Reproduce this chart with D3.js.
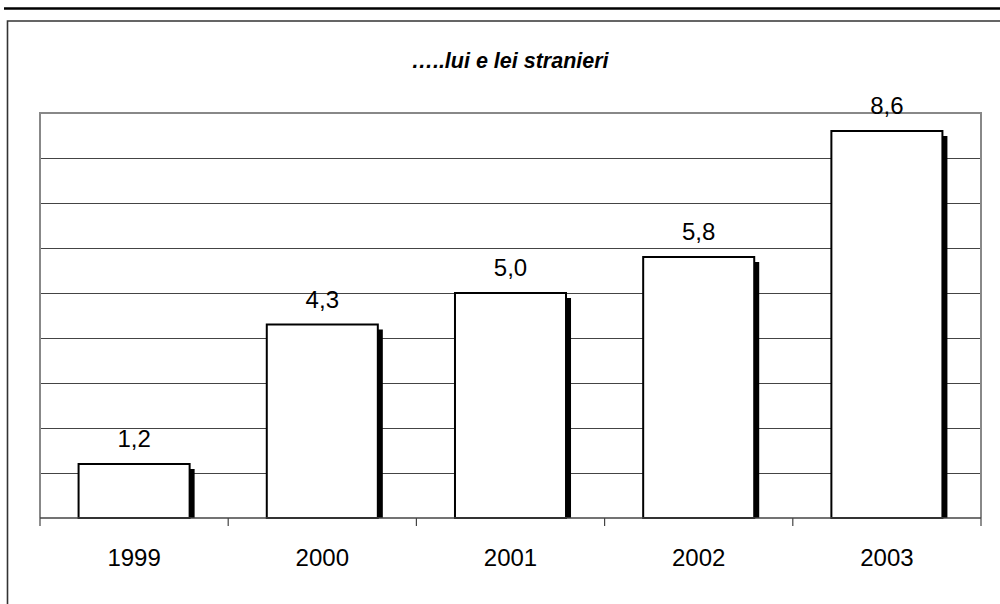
<!DOCTYPE html>
<html>
<head>
<meta charset="utf-8">
<script src="https://cdn.jsdelivr.net/npm/d3@7/dist/d3.min.js"></script>
<style>
  html, body { margin: 0; padding: 0; background: #fff; }
  svg { display: block; font-family: "Liberation Sans", Arial, sans-serif; }
</style>
</head>
<body>
<svg id="chart" width="1000" height="604"></svg>
<script>
const titleText = "…..lui e lei stranieri";
const years = ["1999", "2000", "2001", "2002", "2003"];
const values = [1.2, 4.3, 5.0, 5.8, 8.6];
const valueLabels = ["1,2", "4,3", "5,0", "5,8", "8,6"];
const yTicks = [0, 1, 2, 3, 4, 5, 6, 7, 8, 9];

const svg = d3.select("#chart");
const plot = { left: 40, top: 113, right: 981, bottom: 518 };

// top rule and outer frame
svg.append("line").attr("x1", 4).attr("x2", 1000).attr("y1", 8.5).attr("y2", 8.5)
  .attr("stroke", "#000").attr("stroke-width", 2.5);
svg.append("path").attr("d", "M7.5,610 V21 H1010")
  .attr("fill", "none").attr("stroke", "#333").attr("stroke-width", 1.6);

// title
svg.append("text").attr("x", 510).attr("y", 68).attr("text-anchor", "middle")
  .attr("font-size", 21.5).attr("font-weight", "bold").attr("font-style", "italic")
  .attr("fill", "#000").text(titleText);

const x = d3.scaleBand().domain(years).range([plot.left, plot.right])
  .paddingInner(0.41).paddingOuter(0.205);
const y = d3.scaleLinear().domain([0, 9]).range([plot.bottom, plot.top]);

// gridlines
svg.append("g").selectAll("line").data(yTicks.filter(d => d > 0 && d < 9)).join("line")
  .attr("x1", plot.left).attr("x2", plot.right)
  .attr("y1", d => Math.round(y(d)) + 0.5).attr("y2", d => Math.round(y(d)) + 0.5)
  .attr("stroke", "#444").attr("stroke-width", 1);

// plot border (left, top, right)
svg.append("path")
  .attr("d", `M${plot.left},${plot.bottom} V${plot.top} H${plot.right} V${plot.bottom}`)
  .attr("fill", "none").attr("stroke", "#888").attr("stroke-width", 2);

// bars: shadow then bar
const bars = svg.append("g");
bars.selectAll("rect.shadow").data(values).join("rect").attr("class", "shadow")
  .attr("x", (d, i) => x(years[i]) + 5).attr("y", d => y(d) + 5)
  .attr("width", x.bandwidth()).attr("height", d => plot.bottom - y(d) - 5)
  .attr("fill", "#000");
bars.selectAll("rect.bar").data(values).join("rect").attr("class", "bar")
  .attr("x", (d, i) => x(years[i])).attr("y", d => y(d))
  .attr("width", x.bandwidth()).attr("height", d => plot.bottom - y(d))
  .attr("fill", "#fff").attr("stroke", "#000").attr("stroke-width", 2);

// x axis
const axisG = svg.append("g").attr("transform", `translate(0,${plot.bottom})`);
axisG.append("line").attr("x1", plot.left).attr("x2", plot.right)
  .attr("stroke", "#444").attr("stroke-width", 1.5);
const boundaries = [plot.left].concat(years.map(yr => x(yr) + x.bandwidth() + x.step() * x.paddingInner() / 2));
boundaries[boundaries.length - 1] = plot.right;
axisG.selectAll("line.tick").data(boundaries).join("line").attr("class", "tick")
  .attr("x1", d => d).attr("x2", d => d).attr("y1", 0).attr("y2", 8)
  .attr("stroke", "#444").attr("stroke-width", 1.2);

svg.append("g").selectAll("text").data(years).join("text")
  .attr("x", d => x(d) + x.bandwidth() / 2).attr("y", 565.5)
  .attr("text-anchor", "middle").attr("font-size", 24).attr("fill", "#000")
  .text(d => d);

// value labels
svg.append("g").selectAll("text").data(values).join("text")
  .attr("x", (d, i) => x(years[i]) + x.bandwidth() / 2).attr("y", d => y(d) - 17)
  .attr("text-anchor", "middle").attr("font-size", 24).attr("fill", "#000")
  .text((d, i) => valueLabels[i]);
</script>
</body>
</html>
